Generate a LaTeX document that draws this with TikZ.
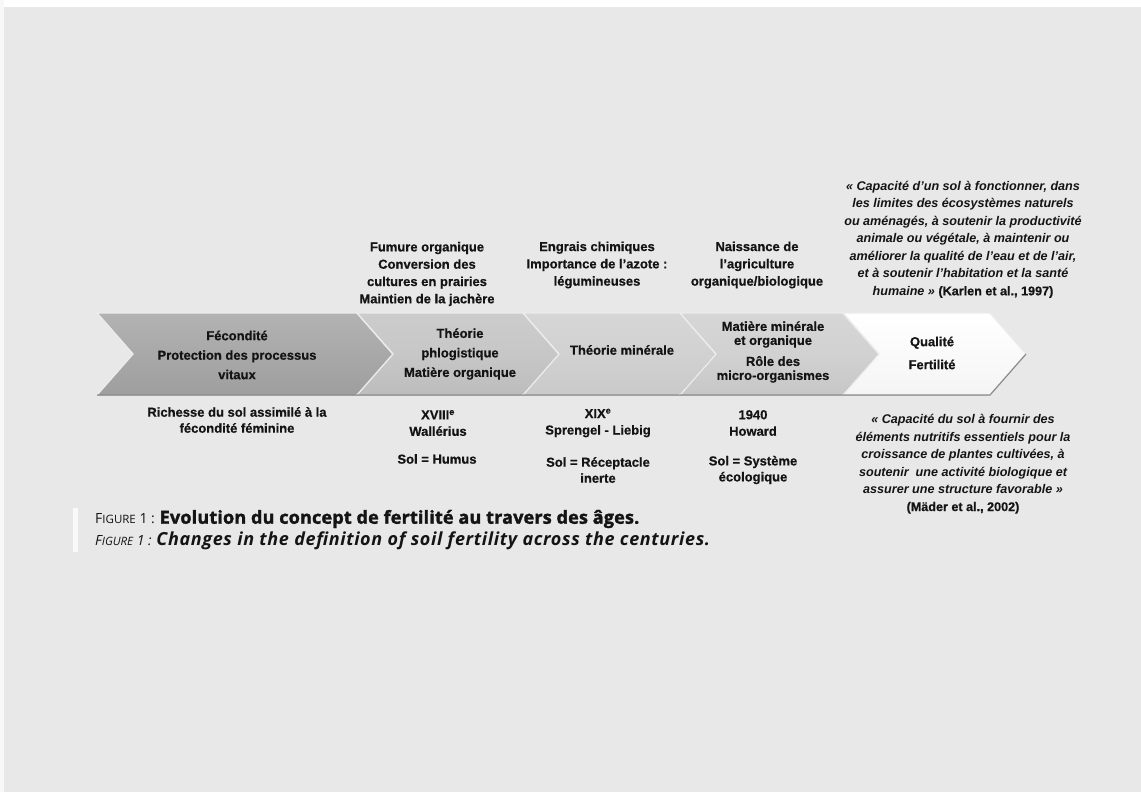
\documentclass[tikz,border=0pt]{standalone}
\usepackage{fontspec}
\setmainfont{Liberation Sans}[BoldFeatures={FakeBold=0.6}]
\newfontfamily\capfont{Open Sans}[BoldFeatures={FakeBold=1.8}]
\definecolor{bgc}{HTML}{E8E8E8}
\definecolor{textc}{HTML}{141414}
\newcommand\mychev[5]{%
  \fill[top color=#3, bottom color=#4, middle color=#5] (#1,313) -- (#2,313) -- ({#2+36},354) -- (#2,395) -- (#1,395) -- ({#1+36},354) -- cycle;
  \draw[chevedge] (#1,395) -- ({#1+36},354) -- (#1,313) -- (#2,313) -- ({#2+36},354);
  \draw[chevshadow] ({#2+36},354) -- (#2,395) -- (#1,395);
}
\begin{document}
\begin{tikzpicture}[x=1pt,y=-1pt,
  chevedge/.style={draw=white!85!gray, line width=1.4pt, line join=round},
  chevshadow/.style={draw=black!45, line width=1.2pt, line join=round},
  txt/.style={font=\fontsize{13}{17.3}\selectfont\bfseries, align=center, text=textc, inner sep=0pt},
  chevtxt/.style={txt, font=\fontsize{13}{19.5}\selectfont\bfseries},
  quotetxt/.style={txt, font=\fontsize{12.6}{17.5}\selectfont\bfseries\itshape},
  captxt/.style={anchor=west, inner sep=0pt, text=textc, font=\capfont\fontsize{14}{16}\selectfont}
]
\useasboundingbox (0,0) rectangle (1141,792);
\fill[bgc] (0,0) rectangle (1141,792);
\fill[white] (0,0) rectangle (1141,7);
\fill[white!70!bgc] (0,0) rectangle (4,792);

% chevrons
\mychev{97}{357}{black!30}{black!38}{black!34}
\mychev{357}{523}{black!20}{black!26}{black!22}
\mychev{523}{680}{black!16}{black!21}{black!18}
\mychev{680}{843}{black!16}{black!22}{black!18}
\mychev{843}{990}{white}{black!4}{white!98!black}

% chevron texts
\node[chevtxt] (t1) at (237,355) {Fécondité\\Protection des processus\\vitaux};
\node[chevtxt] (t2) at (460,354) {Théorie\\phlogistique\\Matière organique};
\node[chevtxt] (t3) at (622,350) {Théorie minérale};
\node[txt, font=\fontsize{13}{14}\selectfont\bfseries] (t4) at (773,352) {Matière minérale\\et organique\\[7pt]Rôle des\\micro-organismes};
\node[txt, font=\fontsize{13}{17}\selectfont\bfseries] (t5) at (932,353) {Qualité\\[6pt]Fertilité};

% above
\node[txt] (a2) at (427,274) {Fumure organique\\Conversion des\\cultures en prairies\\Maintien de la jachère};
\node[txt] (a3) at (597,265) {Engrais chimiques\\Importance de l'azote :\\légumineuses};
\node[txt] (a4) at (757,265) {Naissance de\\l'agriculture\\organique/biologique};

% quotes
\node[quotetxt] (q1) at (963,239.5) {« Capacité d'un sol à fonctionner, dans\\les limites des écosystèmes naturels\\ou aménagés, à soutenir la productivité\\animale ou végétale, à maintenir ou\\améliorer la qualité de l'eau et de l'air,\\et à soutenir l'habitation et la santé\\humaine » {\upshape(Karlen et al., 1997)}};
\node[quotetxt] (q2) at (963,464) {« Capacité du sol à fournir des\\éléments nutritifs essentiels pour la\\croissance de plantes cultivées, à\\soutenir \ une activité biologique et\\assurer une structure favorable »\\{\upshape(Mäder et al., 2002)}};

% below
\node[txt, font=\fontsize{13}{16}\selectfont\bfseries] (b1) at (237,420) {Richesse du sol assimilé à la\\fécondité féminine};
\node[txt, font=\fontsize{13}{16.5}\selectfont\bfseries] (b2) at (438,423) {XVIII\textsuperscript{e}\\Wallérius};
\node[txt] (s2) at (437,459) {Sol = Humus};
\node[txt, font=\fontsize{13}{16.5}\selectfont\bfseries] (b3) at (598,423) {XIX\textsuperscript{e}\\Sprengel - Liebig};
\node[txt, font=\fontsize{13}{16}\selectfont\bfseries] (s3) at (598,470) {Sol = Réceptacle\\inerte};
\node[txt, font=\fontsize{13}{16.5}\selectfont\bfseries] (b4) at (753,423) {1940\\Howard};
\node[txt, font=\fontsize{13}{16}\selectfont\bfseries] (s4) at (753,470) {Sol = Système\\écologique};

% caption
\fill[white!75!bgc] (73,508) rectangle (78,552);
\node[captxt] (c1) at (95,519) {F{\fontsize{11.5}{12}\selectfont IGURE} 1 : {\capfont\fontsize{18}{20}\selectfont\bfseries\addfontfeature{LetterSpace=1}Evolution du concept de fertilité au travers des âges.}};
\node[captxt] (c2) at (95,541) {\itshape F{\fontsize{11.5}{12}\selectfont IGURE} 1 : {\capfont\fontsize{18}{20}\selectfont\bfseries\itshape\addfontfeature{LetterSpace=3.5}Changes in the definition of soil fertility across the centuries.}};
\end{tikzpicture}
\end{document}
